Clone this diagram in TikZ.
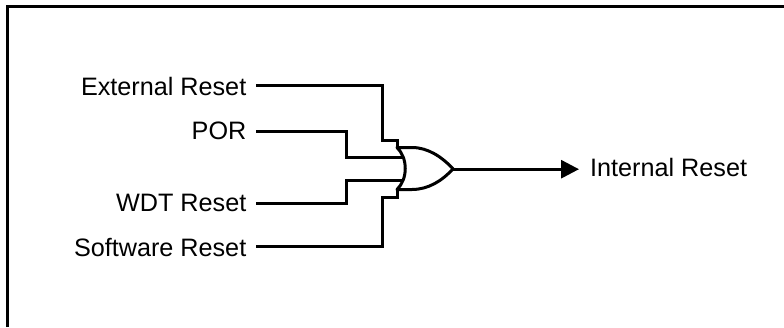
\documentclass[tikz,border=0pt]{standalone}
\usepackage{fontspec}
\setmainfont{Liberation Sans}
\usetikzlibrary{arrows.meta}
\tikzset{x=1pt,y=-1pt,
 wire/.style={line width=3pt,line cap=butt,line join=miter},
 lab/.style={anchor=base east,inner sep=0pt,font=\fontsize{25.2}{28}\selectfont},
 gatepath/.style={line width=3pt,line join=round,fill=white}}
\begin{document}
\begin{tikzpicture}
\useasboundingbox (0,0) rectangle (784,327);
\draw[wire] (7.4,327) -- (7.4,6.9) -- (784,6.9);
\node[lab] (ext) at (246.5,95) {External Reset};
\node[lab] (por) at (246.5,139.3) {POR};
\node[lab] (wdt) at (246.5,211) {WDT Reset};
\node[lab] (sw) at (246.5,256) {Software Reset};
\coordinate (e1) at (256,85.4);
\coordinate (p1) at (256,131.9);
\coordinate (w1) at (256,203.4);
\coordinate (s1) at (256,246.4);
\draw[wire] (e1) -- (382.4,85.4) -- (382.4,140.4) -- (397.4,140.4) -- (397.4,148);
\draw[wire] (p1) -- (346.9,131.9) -- (346.9,157.9) -- (403,157.9);
\draw[wire] (w1) -- (346.9,203.4) -- (346.9,180.4) -- (403,180.4);
\draw[wire] (s1) -- (382.4,246.4) -- (382.4,197.4) -- (397.4,197.4) -- (397.4,189);
\draw[gatepath] (397,147.5) .. controls (408,158) and (408,179) .. (397,189.5)
  .. controls (399,189.5) and (404,189.5) .. (412,189.5)
  .. controls (428,189.5) and (442,181) .. (453,168.8)
  .. controls (442,157) and (428,147.5) .. (412,147.5) -- cycle;
\coordinate (g) at (453,169.2);
\coordinate (a) at (579,169.2);
\draw[line width=3pt,-{Triangle[length=18pt,width=18pt]}] (g) -- (a);
\node[lab,anchor=base west] (out) at (590,176) {Internal Reset};
\end{tikzpicture}
\end{document}
